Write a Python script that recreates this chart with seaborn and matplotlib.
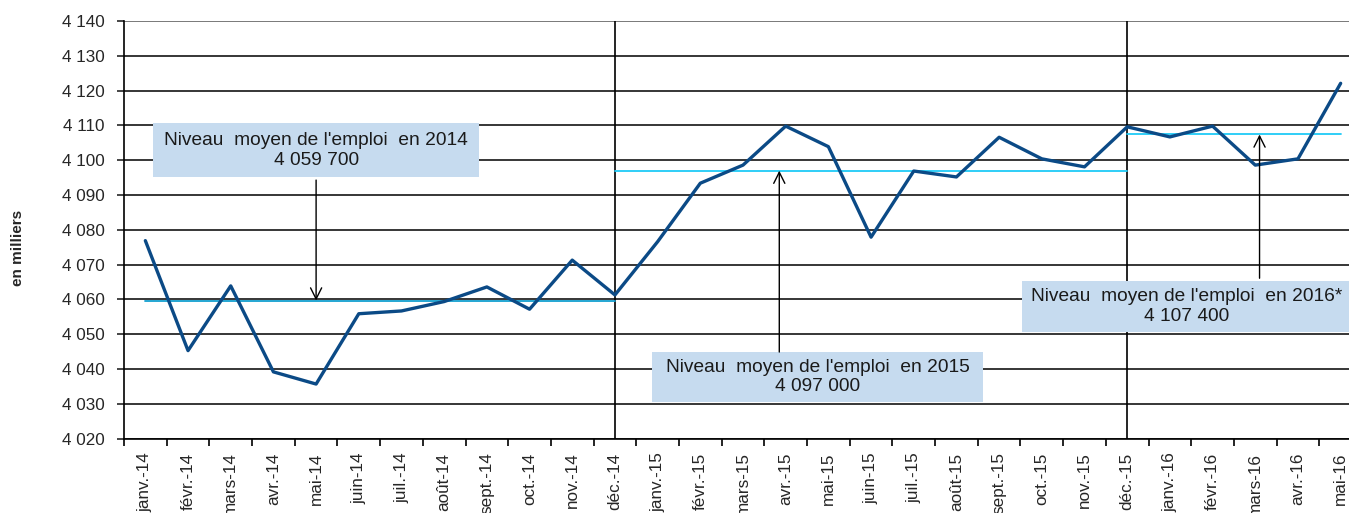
import matplotlib
matplotlib.use("Agg")
import matplotlib.pyplot as plt
import matplotlib.ticker as mticker
from matplotlib.patches import Rectangle
import pandas as pd
import seaborn as sns

# monthly values, in thousands
months = [
    "janv.-14", "févr.-14", "mars-14", "avr.-14", "mai-14", "juin-14",
    "juil.-14", "août-14", "sept.-14", "oct.-14", "nov.-14", "déc.-14",
    "janv.-15", "févr.-15", "mars-15", "avr.-15", "mai-15", "juin-15",
    "juil.-15", "août-15", "sept.-15", "oct.-15", "nov.-15", "déc.-15",
    "janv.-16", "févr.-16", "mars-16", "avr.-16", "mai-16",
]
emploi = [
    4076.9, 4045.3, 4063.9, 4039.2, 4035.7, 4055.9,
    4056.7, 4059.4, 4063.6, 4057.2, 4071.3, 4061.3,
    4076.6, 4093.4, 4098.6, 4109.8, 4103.9, 4077.9,
    4096.9, 4095.2, 4106.6, 4100.4, 4098.1, 4109.6,
    4106.7, 4109.8, 4098.6, 4100.4, 4122.1,
]

# yearly averages and the months they span
annees = ["2014", "2015", "2016*"]
moyennes = [4059.7, 4097.0, 4107.4]
debut = ["janv.-14", "déc.-14", "déc.-15"]
fin = ["déc.-14", "déc.-15", "mai-16"]
moyenne_txt = ["4 059 700", "4 097 000", "4 107 400"]
separateurs = ["déc.-14", "déc.-15"]

df = pd.DataFrame({"x": range(len(months)), "emploi": emploi})

sns.set_style("white")
plt.rcParams["font.family"] = ["Liberation Sans", "DejaVu Sans"]

fig = plt.figure(figsize=(13.49, 5.13), dpi=100)
ax = fig.add_axes([124 / 1349, 74.3 / 513, (1362 - 124) / 1349, 417.7 / 513])

ax.set_ylim(4020, 4140)
ax.set_xlim(-0.5, len(months) - 0.5)

# horizontal grid
ax.yaxis.set_major_locator(mticker.MultipleLocator(10))
for v in range(4020, 4141, 10):
    ax.axhline(v, color="#262626" if v < 4140 else "#6e6e6e", lw=1.3, zorder=1)

for s in separateurs:
    ax.axvline(months.index(s), color="black", lw=1.2, zorder=1)

# yearly mean lines
mean_cols = ["#129fcf", "#1fcaf7", "#1fcaf7"]
for i in range(len(annees)):
    ax.plot([months.index(debut[i]), months.index(fin[i])], [moyennes[i]] * 2,
            color=mean_cols[i], lw=1.3, zorder=2)

sns.lineplot(data=df, x="x", y="emploi", color="#0b4a86", lw=2.4, ax=ax, zorder=3)

# annotation boxes (x0, x1, y0, y1 in data coords) and arrows
boites = [(0.19, 7.82, 4095.1, 4110.6), (11.87, 19.62, 4030.5, 4044.9), (20.54, 28.7, 4050.6, 4065.3)]
text_x = [4.0, 15.75, 24.4]
fleche_x = [4.0, 14.85, 26.1]
fleche_y0 = [4094.3, 4044.9, 4066.1]
for i in range(len(annees)):
    x0, x1, y0, y1 = boites[i]
    ax.add_patch(Rectangle((x0, y0), x1 - x0, y1 - y0, facecolor="#c6dbef",
                           edgecolor="none", zorder=4))
    ax.text(text_x[i], (y0 + y1) / 2,
            "Niveau  moyen de l'emploi  en " + annees[i] + "\n" + moyenne_txt[i],
            ha="center", va="center", fontsize=13.8, color="#1a1a1a",
            linespacing=1.2, zorder=5)
    ax.annotate("", xy=(fleche_x[i], moyennes[i]), xytext=(fleche_x[i], fleche_y0[i]),
                arrowprops=dict(arrowstyle="->", color="black", lw=1.0,
                                mutation_scale=20, shrinkA=0, shrinkB=0), zorder=4)

# axes styling
for sp in ["top", "right"]:
    ax.spines[sp].set_visible(False)
ax.spines["left"].set_color("black")
ax.spines["bottom"].set_color("black")
ax.spines["left"].set_linewidth(1.2)
ax.spines["bottom"].set_linewidth(1.2)

ax.yaxis.set_major_formatter(mticker.FuncFormatter(lambda v, p: f"{int(v):,}".replace(",", " ")))
ax.tick_params(axis="y", which="major", left=True, length=5, width=1.2, color="#262626",
               labelsize=12.3, pad=9)

ax.set_xticks([i - 0.5 for i in range(len(months) + 1)])
ax.set_xticklabels([])
ax.set_xticks(range(len(months)), minor=True)
ax.set_xticklabels(months, minor=True, rotation=90, ha="center", va="top")
ax.tick_params(axis="x", which="major", bottom=True, length=5, width=1.2, color="black")
ax.tick_params(axis="x", which="minor", bottom=True, length=0, labelsize=12.3, pad=10)

ax.set_xlabel("")
ax.set_ylabel("")
fig.text(18 / 1349, (513 - 248) / 513, "en milliers", rotation=90, ha="center", va="center",
         fontsize=11, fontweight="bold")

fig.savefig("out.png", dpi=100)
